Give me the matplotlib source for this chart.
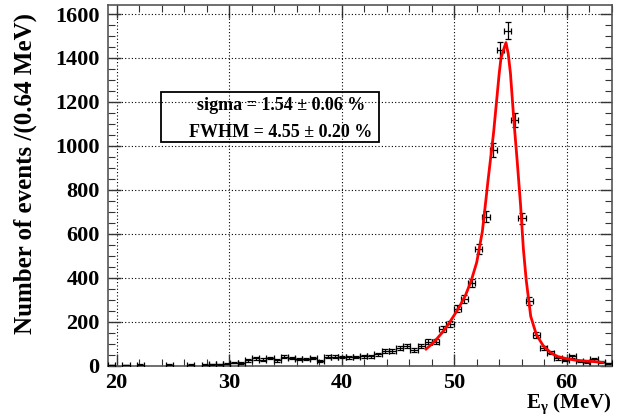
import numpy as np
import matplotlib
matplotlib.use("Agg")
import matplotlib.pyplot as plt
from matplotlib.ticker import MultipleLocator
from matplotlib.patches import Rectangle

# ---- data (histogram bin centres in MeV, counts per 0.64 MeV) ----
bin_centers = [19.55, 20.83, 22.11, 24.67, 26.59, 27.87, 28.51, 29.15, 29.79,
               30.43, 31.07, 31.71, 32.35, 32.99, 33.63, 34.27, 34.91, 35.55,
               36.19, 36.83, 37.47, 38.11, 38.75, 39.39, 40.03, 40.67, 41.31,
               41.95, 42.59, 43.23, 43.87, 44.51, 45.15, 45.79, 46.43, 47.07,
               47.71, 48.35, 48.99, 49.63, 50.27, 50.91, 51.55, 52.19, 52.83,
               53.47, 54.11, 54.75, 55.39, 56.03, 56.67, 57.31, 57.95, 58.59,
               59.23, 59.87, 60.51, 61.15, 61.79, 62.43, 63.07, 63.71]
counts = [3, 3, 5, 4, 4, 4, 6, 7, 10,
          14, 12, 24, 33, 28, 36, 24, 42, 36,
          30, 30, 36, 20, 42, 42, 40, 38, 40,
          44, 44, 52, 67, 67, 80, 91, 71, 91,
          109, 109, 166, 189, 259, 305, 377, 530, 678,
          983, 1437, 1524, 1118, 670, 294, 140, 82, 59,
          34, 26, 44, 23, 18, 29, 18, 11]
bin_half_width = 0.32

# fitted curve
fit_x = [47.5, 48.0, 48.5, 49.0, 49.5, 50.0, 50.5, 51.0, 51.5, 52.0, 52.5,
         52.83, 53.0, 53.33, 53.5, 54.0, 54.16, 54.4, 54.6, 54.8, 55.0, 55.3,
         55.6, 55.9, 56.15, 56.4, 56.8, 57.3, 57.9, 58.6, 59.2, 60.0, 60.7,
         61.5, 62.4, 63.2]
fit_y = [76, 98, 125, 155, 190, 230, 272, 320, 385, 470, 610,
         760, 840, 985, 1060, 1330, 1400, 1440, 1470, 1420, 1330, 1118,
         930, 730, 530, 390, 225, 142, 92, 58, 42, 32, 26,
         22, 19, 15]

stats_lines = ["sigma = 1.54 \u00b1 0.06 %", "FWHM = 4.55 \u00b1 0.20 %"]

# ---- style ----
plt.rcParams['font.family'] = ['Liberation Serif', 'DejaVu Serif']
plt.rcParams['font.weight'] = 'bold'
plt.rcParams['mathtext.fontset'] = 'custom'
plt.rcParams['mathtext.rm'] = 'Liberation Serif:bold'
plt.rcParams['mathtext.it'] = 'Liberation Serif:bold'
plt.rcParams['mathtext.bf'] = 'Liberation Serif:bold'

fig = plt.figure(figsize=(6.17, 4.18), dpi=100)
ax = fig.add_axes([0.175, 0.125, 0.817, 0.863])

x = np.array(bin_centers)
y = np.array(counts, dtype=float)
ax.errorbar(x, y, xerr=bin_half_width, yerr=np.sqrt(y), fmt='none',
            ecolor='black', elinewidth=0.9, capsize=2.0, capthick=0.9, zorder=3)
ax.plot(fit_x, fit_y, color='#ff0000', lw=2.0, zorder=4)

ax.set_xlim(19.23, 64.03)
ax.set_ylim(0, 1641)
ax.xaxis.set_major_locator(MultipleLocator(10))
ax.xaxis.set_minor_locator(MultipleLocator(2))
ax.yaxis.set_major_locator(MultipleLocator(200))
ax.yaxis.set_minor_locator(MultipleLocator(50))
ax.tick_params(which='both', direction='in', top=True, right=True,
               labelsize=16, color='#333333')
ax.tick_params(which='major', length=9, width=1.0)
ax.tick_params(which='minor', length=5, width=0.8)
ax.tick_params(axis='x', pad=5)
ax.tick_params(axis='y', pad=6)
for lab in ax.get_xticklabels() + ax.get_yticklabels():
    lab.set_fontweight('bold')
for s in ax.spines.values():
    s.set_color('#555555')
    s.set_linewidth(1.2)
ax.grid(True, which='major', linestyle=(0, (1, 2)), color='black', lw=0.8)
ax.set_axisbelow(True)

ax.set_ylabel("Number of events /(0.64 MeV)", fontsize=18, fontweight='bold',
              loc='top')
ax.yaxis.set_label_coords(-0.141, 0.978)
ax.set_xlabel(r"E$_{\gamma}$ (MeV)", fontsize=15, fontweight='bold',
              loc='right', labelpad=-1)

# stats box (transparent, grid shows through)
ax.add_patch(Rectangle((23.9, 1020), 19.4, 225, facecolor='none',
                       edgecolor='black', lw=1.3, zorder=5))
ax.text(34.6, 1182, stats_lines[0], ha='center', va='center', fontsize=13,
        fontweight='bold', zorder=6)
ax.text(34.6, 1062, stats_lines[1], ha='center', va='center', fontsize=13,
        fontweight='bold', zorder=6)

fig.savefig("out.png", dpi=100)
